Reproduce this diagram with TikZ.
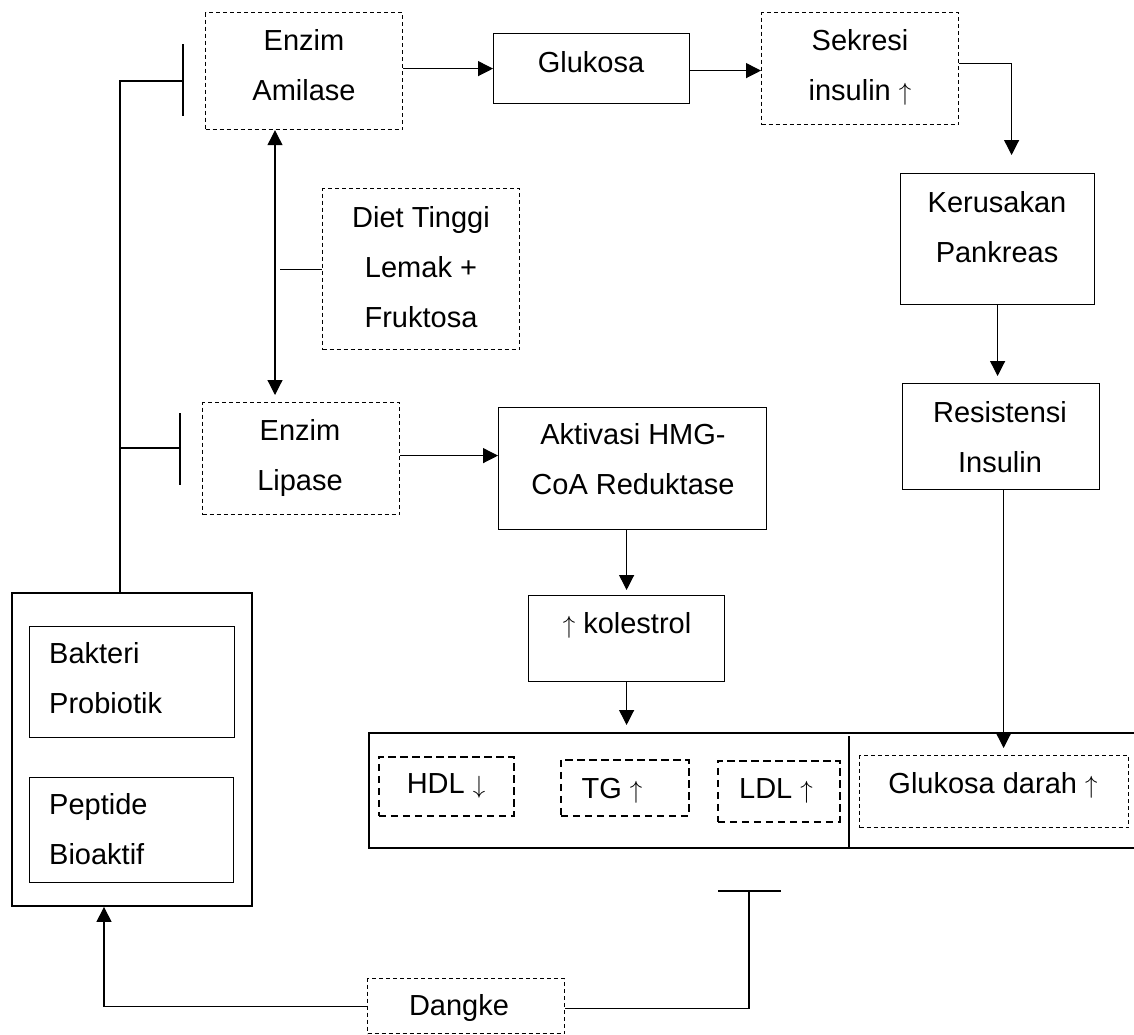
\documentclass[tikz,border=0pt]{standalone}
\usepackage{fontspec}
\setmainfont{Liberation Sans}
\usetikzlibrary{arrows.meta,calc}
\newcommand{\upar}{\ensuremath{\uparrow}}
\newcommand{\dnar}{\ensuremath{\downarrow}}
\begin{document}
\begin{tikzpicture}[x=1pt,y=-1pt,
  bx/.style={draw, anchor=north west, inner sep=0pt, line width=1.2pt},
  dbx/.style={bx, dash pattern=on 4pt off 3pt},
  tbx/.style={bx, line width=1.9pt, dash pattern=on 7.5pt off 4.5pt},
  thk/.style={bx, line width=1.9pt},
  txt/.style={inner sep=0pt, align=center, font=\fontsize{29}{50}\selectfont},
  ltxt/.style={txt, align=left, anchor=west},
  ln/.style={line width=1.2pt},
  arr/.style={ln, -{Triangle[length=15pt,width=15pt]}},
  arr2/.style={ln, {Triangle[length=15pt,width=15pt]}-{Triangle[length=15pt,width=15pt]}},
]
\useasboundingbox (0,0) rectangle (1134,1034);

% boxes
\node[dbx, minimum width=197pt, minimum height=117pt] (ami) at (205,12) {};
\node[bx,  minimum width=196pt, minimum height=70pt]  (glu) at (493,33) {};
\node[dbx, minimum width=197pt, minimum height=112pt] (sek) at (761,12) {};
\node[bx,  minimum width=194pt, minimum height=131pt] (ker) at (900,173) {};
\node[bx,  minimum width=197pt, minimum height=106pt] (res) at (902,383) {};
\node[dbx, minimum width=197pt, minimum height=161pt] (diet) at (322,188) {};
\node[dbx, minimum width=197pt, minimum height=112pt] (lip) at (202,402) {};
\node[bx,  minimum width=268pt, minimum height=122pt] (akt) at (498,407) {};
\node[bx,  minimum width=196pt, minimum height=86pt]  (kol) at (528,595) {};
\node[thk, minimum width=772pt, minimum height=115pt] (tab) at (368,732) {};
\node[tbx, minimum width=135pt, minimum height=59pt]  (hdl) at (378,756) {};
\node[tbx, minimum width=128pt, minimum height=56pt]  (tg)  at (560,759) {};
\node[tbx, minimum width=122pt, minimum height=61pt]  (ldl) at (717,760) {};
\node[dbx, minimum width=269pt, minimum height=72pt]  (gd)  at (859,755) {};
\node[thk, minimum width=240pt, minimum height=313pt] (outer) at (11,592) {};
\node[bx,  minimum width=205pt, minimum height=111pt] (bak) at (29,626) {};
\node[bx,  minimum width=204pt, minimum height=105pt] (pep) at (29,777) {};
\node[dbx, minimum width=197pt, minimum height=55pt]  (dan) at (367,978) {};

% table divider
\draw[line width=1.9pt] ($(tab.north west)+(481,4)$) -- ($(tab.south west)+(481,0)$);

% texts
\node[txt] (tami) at (304,65) {\strut Enzim\\\strut Amilase};
\node[txt] (tglu) at (591,62) {\strut Glukosa};
\node[txt] (tsek) at (860,65) {\strut Sekresi\\\strut insulin \upar};
\node[txt] (tker) at (997,227) {\strut Kerusakan\\\strut Pankreas};
\node[txt] (tres) at (1000,437) {\strut Resistensi\\\strut Insulin};
\node[txt] (tdiet) at (421,267) {\strut Diet Tinggi\\\strut Lemak +\\\strut Fruktosa};
\node[txt] (tlip) at (300,455) {\strut Enzim\\\strut Lipase};
\node[txt] (takt) at (633,459) {\strut Aktivasi HMG-\\\strut CoA Reduktase};
\node[txt] (tkol) at (627,623) {\strut \upar{} kolestrol};
\node[txt] (thdl) at (446,783) {\strut HDL \dnar};
\node[txt] (ttg)  at (612,788) {\strut TG \upar};
\node[txt] (tldl) at (776,788) {\strut LDL \upar};
\node[txt] (tgd)  at (993,783) {\strut Glukosa darah \upar};
\node[ltxt] (tbak) at (49,678) {\strut Bakteri\\\strut Probiotik};
\node[ltxt] (tpep) at (49,829.5) {\strut Peptide\\\strut Bioaktif};
\node[txt] (tdan) at (459,1005) {\strut Dangke};

% connectors
\draw[arr] (ami.east |- glu.west) -- (glu.west);
\coordinate (ga) at ($(glu.east)+(0,2)$);
\draw[arr] (ga) -- (ga -| sek.west);
\draw[arr] ($(sek.east)+(0,-5)$) -| ($(ker.north)+(14,-18)$);
\draw[arr] (ker.south) -- ($(ker.south |- res.north)+(0,-7)$);
\draw[arr] ($(res.south)+(2.5,0)$) -- ($(res.south |- gd.north)+(2.5,-7)$);
\draw[arr2] ($(ami.south west)+(70,0)$) -- ($(lip.north west)+(73,-7)$);
\draw[ln] (diet.west) -- ++(-42,0);
\coordinate (la) at ($(lip.east)+(0,-3)$);
\draw[arr] (la) -- (la -| akt.west);
\draw[arr] (kol.north |- akt.south) -- ($(kol.north)+(0,-5)$);
\draw[arr] (kol.south) -- ($(kol.south |- tab.north)+(0,-7)$);

% inhibition from probiotic box
\coordinate (ia) at (183,81);
\coordinate (ib) at (180,448);
\draw[ln] ($(outer.north west)+(109,0)$) |- (ia);
\draw[ln] ($(ia)+(0,-37)$) -- ($(ia)+(0,35)$);
\draw[ln] (ib -| 120,0) -- (ib);
\draw[ln] ($(ib)+(0,-35)$) -- ($(ib)+(0,37)$);

% dangke
\draw[arr] (dan.west) -| ($(outer.south west)+(93,0)$);
\coordinate (ic) at (749,891);
\draw[ln] ($(dan.east)+(0,2.5)$) -| (ic);
\draw[ln] ($(ic)+(-31,0)$) -- ($(ic)+(32,0)$);
\end{tikzpicture}
\end{document}
